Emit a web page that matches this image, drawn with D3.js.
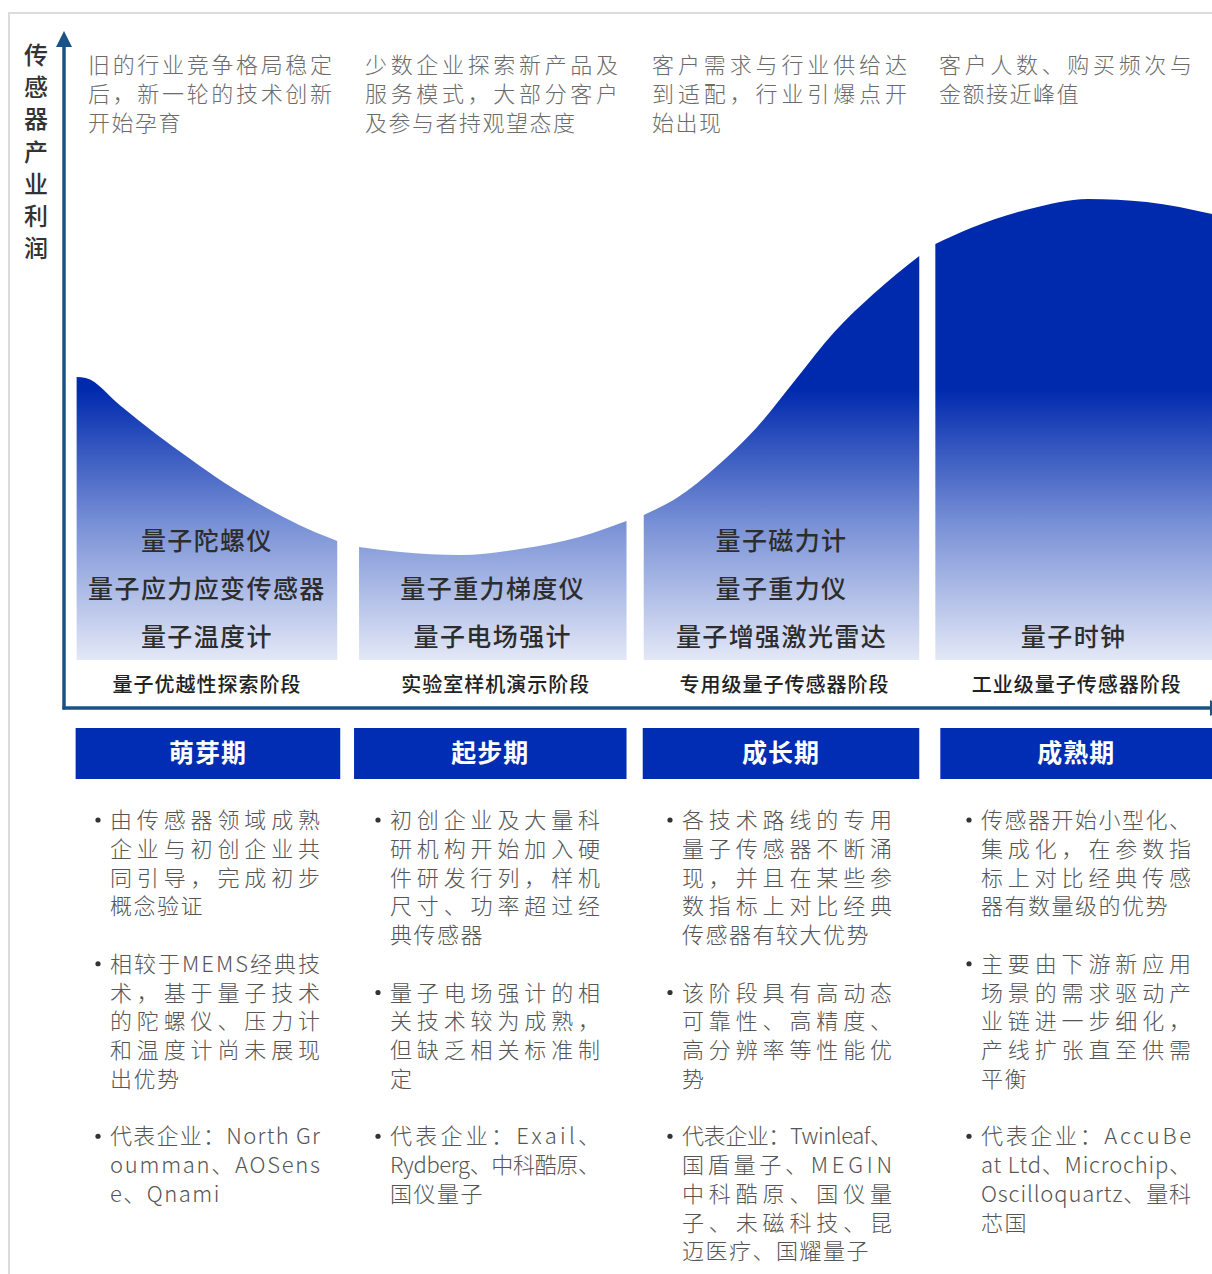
<!DOCTYPE html>
<html>
<head>
<meta charset="utf-8">
<title>传感器产业利润</title>
<script src="https://d3js.org/d3.v7.min.js"></script>
<style>
  body { margin: 0; background: #fff; }
  svg text { font-family: "Noto Sans CJK SC", "Noto Sans", sans-serif; }
</style>
</head>
<body>
<svg id="chart"></svg>
<script>
// ---- data ----
const stages = ["萌芽期", "起步期", "成长期", "成熟期"];
const stageNames = ["量子优越性探索阶段", "实验室样机演示阶段", "专用级量子传感器阶段", "工业级量子传感器阶段"];
const products = [
  ["量子陀螺仪", "量子应力应变传感器", "量子温度计"],
  ["量子重力梯度仪", "量子电场强计"],
  ["量子磁力计", "量子重力仪", "量子增强激光雷达"],
  ["量子时钟"]
];
// profit curve for each stage: [time, profit]
const curve1 = [[1.1, 56.6], [1.9, 56.4], [4.9, 50.9], [7.9, 45.4], [11.0, 40.2], [14.0, 35.4], [17.1, 31.1], [20.4, 27.1], [23.8, 23.8]];
const curve2 = [[25.7, 22.6], [29.3, 21.6], [34.5, 21.0], [39.7, 22.2], [44.9, 24.6], [49.0, 27.8]];
const curve3 = [[50.5, 29.0], [53.5, 32.6], [56.9, 38.8], [60.3, 46.4], [63.7, 56.0], [67.1, 65.6], [70.5, 73.2], [74.5, 80.8]];
const curve4 = [[75.9, 83.2], [79.0, 86.4], [84.1, 90.2], [89.2, 92.2], [94.3, 91.6], [100, 89.2]];
const curves = [curve1, curve2, curve3, curve4];

const yLabel = "传感器产业利润";
const topNotes = [
  ["旧的行业竞争格局稳定", "后，新一轮的技术创新", "开始孕育"],
  ["少数企业探索新产品及", "服务模式，大部分客户", "及参与者持观望态度"],
  ["客户需求与行业供给达", "到适配，行业引爆点开", "始出现"],
  ["客户人数、购买频次与", "金额接近峰值"]
];
const bullets = [
  [
    ["由传感器领域成熟", "企业与初创企业共", "同引导，完成初步", "概念验证"],
    ["相较于MEMS经典技", "术，基于量子技术", "的陀螺仪、压力计", "和温度计尚未展现", "出优势"],
    ["代表企业：North Gr", "oumman、AOSens", "e、Qnami"]
  ],
  [
    ["初创企业及大量科", "研机构开始加入硬", "件研发行列，样机", "尺寸、功率超过经", "典传感器"],
    ["量子电场强计的相", "关技术较为成熟，", "但缺乏相关标准制", "定"],
    ["代表企业：Exail、", "Rydberg、中科酷原、", "国仪量子"]
  ],
  [
    ["各技术路线的专用", "量子传感器不断涌", "现，并且在某些参", "数指标上对比经典", "传感器有较大优势"],
    ["该阶段具有高动态", "可靠性、高精度、", "高分辨率等性能优", "势"],
    ["代表企业：Twinleaf、", "国盾量子、MEGIN", "中科酷原、国仪量", "子、未磁科技、昆", "迈医疗、国耀量子"]
  ],
  [
    ["传感器开始小型化、", "集成化，在参数指", "标上对比经典传感", "器有数量级的优势"],
    ["主要由下游新应用", "场景的需求驱动产", "业链进一步细化，", "产线扩张直至供需", "平衡"],
    ["代表企业：AccuBe", "at Ltd、Microchip、", "Oscilloquartz、量科", "芯国"]
  ]
];

// ---- layout ----
const W = 1212, H = 1274;
const axisColor = "#1a5285";
const axisX = 64, axisY = 708;
const noteX = [88, 365, 652, 939];
const noteW = [244, 253, 255, 253];
const textX = [110, 390, 682, 981];
const textW = 210;
const boxPad = [[1, 3], [5, 0], [1, 0], [-5, 0]]; // header boxes vs area edges

const svg = d3.select("#chart").attr("width", W).attr("height", H);

// frame
svg.append("rect")
  .attr("x", 9).attr("y", 13).attr("width", 1400).attr("height", 1400)
  .attr("fill", "none").attr("stroke", "#dcdcdc").attr("stroke-width", 2);

const x = d3.scaleLinear().domain([0, 100]).range([64, 1212]);
const y = d3.scaleLinear().domain([0, 100]).range([660, 160]);

// gradient
const grad = svg.append("defs").append("linearGradient")
  .attr("id", "blueGrad").attr("gradientUnits", "userSpaceOnUse")
  .attr("x1", 0).attr("y1", 390).attr("x2", 0).attr("y2", 662);
grad.append("stop").attr("offset", 0).attr("stop-color", "#002aae");
grad.append("stop").attr("offset", 0.5).attr("stop-color", "#7a92d6");
grad.append("stop").attr("offset", 1).attr("stop-color", "#e5e9f7");

const area = d3.area()
  .x(d => x(d[0]))
  .y0(y(0))
  .y1(d => y(d[1]))
  .curve(d3.curveMonotoneX);

svg.append("g").selectAll("path")
  .data(curves)
  .join("path")
  .attr("d", area)
  .attr("fill", "url(#blueGrad)");

// products inside areas (bottom aligned)
curves.forEach((c, i) => {
  const x0 = x(c[0][0]), x1 = x(c[c.length - 1][0]);
  const cx = (x0 + x1) / 2;
  const list = products[i];
  list.forEach((t, j) => {
    svg.append("text")
      .attr("x", cx)
      .attr("y", 646 - (list.length - 1 - j) * 48)
      .attr("text-anchor", "middle")
      .attr("font-size", 25)
      .attr("font-weight", 500)
      .attr("letter-spacing", 1.4)
      .attr("fill", "#2d2d2d")
      .text(t);
  });
  svg.append("text")
    .attr("x", cx + (i ? 3 : 0))
    .attr("y", 692)
    .attr("text-anchor", "middle")
    .attr("font-size", 20)
    .attr("font-weight", 500)
    .attr("letter-spacing", 1)
    .attr("fill", "#222")
    .text(stageNames[i]);

  // header box
  const bx0 = x0 - boxPad[i][0], bx1 = x1 + boxPad[i][1];
  svg.append("rect")
    .attr("x", bx0).attr("y", 728)
    .attr("width", bx1 - bx0).attr("height", 51)
    .attr("fill", "#002db3");
  svg.append("text")
    .attr("x", (bx0 + bx1) / 2)
    .attr("y", 762)
    .attr("text-anchor", "middle")
    .attr("font-size", 25)
    .attr("font-weight", 700)
    .attr("letter-spacing", 1)
    .attr("fill", "#fff")
    .text(stages[i]);
});

// axes
svg.append("line")
  .attr("x1", axisX).attr("y1", axisY + 1.5).attr("x2", axisX).attr("y2", 46)
  .attr("stroke", axisColor).attr("stroke-width", 3.5);
svg.append("path")
  .attr("d", `M${axisX - 8},47 L${axisX},31 L${axisX + 8},47 Z`)
  .attr("fill", axisColor);
svg.append("line")
  .attr("x1", axisX - 1.5).attr("y1", axisY).attr("x2", 1212).attr("y2", axisY)
  .attr("stroke", axisColor).attr("stroke-width", 3.5);
svg.append("path")
  .attr("d", `M1210,700 L1226,${axisY} L1210,716 Z`)
  .attr("fill", axisColor);

// y label (vertical)
yLabel.split("").forEach((ch, i) => {
  svg.append("text")
    .attr("x", 36)
    .attr("y", 64 + i * 32.2)
    .attr("text-anchor", "middle")
    .attr("font-size", 24)
    .attr("font-weight", 500)
    .attr("fill", "#333")
    .text(ch);
});

// top notes
topNotes.forEach((lines, i) => {
  lines.forEach((t, j) => {
    const tx = svg.append("text")
      .attr("x", noteX[i])
      .attr("y", 73 + j * 29)
      .attr("font-size", 22)
      .attr("font-weight", 300)
      .attr("fill", "#6b6b6b")
      .text(t);
    if (j < lines.length - 1) {
      tx.attr("textLength", noteW[i]).attr("lengthAdjust", "spacing");
    } else {
      tx.attr("letter-spacing", 1.5);
    }
  });
});

// bullet paragraphs
const step = 28.75;
bullets.forEach((paras, i) => {
  let row = 0;
  paras.forEach(lines => {
    svg.append("circle")
      .attr("cx", textX[i] - 12)
      .attr("cy", 820 + row * step)
      .attr("r", 2.6)
      .attr("fill", "#333");
    lines.forEach((t, j) => {
      const tx = svg.append("text")
        .attr("x", textX[i])
        .attr("y", 828 + (row + j) * step)
        .attr("font-size", 22)
        .attr("font-weight", 300)
        .attr("fill", "#555")
        .text(t);
      if (j < lines.length - 1) {
        tx.attr("textLength", textW).attr("lengthAdjust", "spacing");
      } else {
        tx.attr("letter-spacing", 1.5);
      }
    });
    row += lines.length + 1;
  });
});
</script>
</body>
</html>
